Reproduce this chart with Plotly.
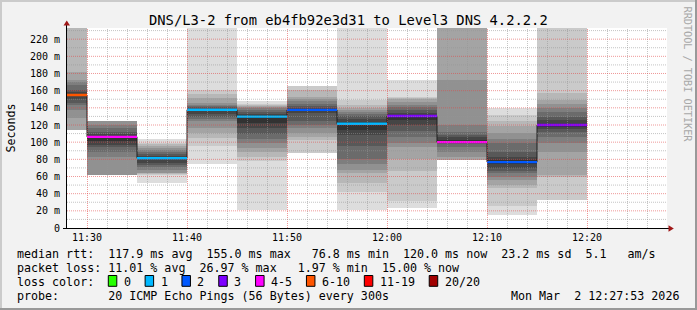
import plotly.graph_objects as go
from datetime import datetime, timedelta

# ---------------- data ----------------
DAY = "2026-03-02"
STEP_SECONDS = 300
step_end = ["11:30", "11:35", "11:40", "11:45", "11:50", "11:55",
            "12:00", "12:05", "12:10", "12:15", "12:20"]
median_ms = [155.0, 106.2, 81.2, 137.8, 129.7, 137.6, 121.5, 130.5, 100.0, 76.8, 120.0]
loss_class = ["6-10", "4-5", "1", "1", "1", "2", "1", "3", "4-5", "2", "3"]

INF = float("inf")   # ping above graph max (or unknown) -> drawn to the top
# 20 sorted ping times per step (ms); None = no value
pings_ms = [
    [None, None, 113.6, 113.6, 128.0, 137.7, 143.5, 146.0, 150.1, 154.3,
     156.0, 158.0, 161.0, 166.8, 169.7, 172.6, 182.3, INF, None, None],
    [None, None, None, None, 61.9, 83.3, 89.1, 94.2, 96.9, 100.8,
     107.4, 110.0, 112.4, 116.3, 120.2, 124.1, None, None, None, None],
    [51.9, 61.9, 62.5, 63.5, 64.5, 67.8, 71.6, 73.5, 75.5, 79.8,
     82.5, 84.0, 86.0, 88.5, 91.1, 93.5, 95.7, 97.3, 98.8, 103.9],
    [74.4, 95.0, 104.7, 110.5, 116.3, 124.1, 127.0, 129.9, 132.5, 136.0,
     139.0, 139.8, 140.4, 142.0, 143.5, 145.4, 151.3, 156.0, 161.0, INF],
    [21.2, 77.5, 83.3, 88.0, 93.0, 98.9, 104.0, 110.0, 116.0, 122.0,
     131.1, 133.0, 134.9, 137.3, 139.6, 140.6, 141.6, 143.0, 144.3, 148.2],
    [None, 87.2, 102.7, 106.5, 110.5, 116.3, 120.0, 124.1, 134.0, 136.5,
     138.5, 139.5, 141.6, 144.5, 147.4, 150.0, 153.2, 161.0, 164.9, None],
    [21.2, 42.5, 52.3, 63.9, 68.0, 74.0, 80.0, 96.0, 108.6, 114.4,
     123.0, 126.5, 130.0, 133.0, 135.0, 137.5, 139.6, 143.5, 149.3, INF],
    [23.1, 30.9, 65.9, 80.0, 93.8, 98.9, 106.6, 113.0, 120.2, 126.0,
     131.9, 134.0, 137.7, 141.0, 143.5, 147.0, 150.5, 152.0, 153.2, 172.6],
    [None, None, None, 79.4, 83.3, 89.1, 93.8, 97.7, 99.0, 99.5,
     102.7, 106.0, 108.6, 112.4, 120.2, 172.6, INF, None, None, None],
    [15.4, 25.1, 46.4, 50.0, 56.1, 60.0, 63.9, 66.0, 69.7, 74.4,
     79.4, 83.3, 89.1, 98.9, 104.0, 110.5, 118.3, 124.1, 131.9, 139.6],
    [None, 32.8, 60.0, 62.0, 89.1, 98.9, 106.6, 112.4, 115.5, 118.7,
     121.0, 125.5, 129.9, 135.0, 139.6, 144.0, 149.3, 157.1, INF, None],
]

x_tick_times = ["11:30", "11:40", "11:50", "12:00", "12:10", "12:20"]
y_tick_values = [0, 20, 40, 60, 80, 100, 120, 140, 160, 180, 200, 220]
y_tick_labels = ["0", "20 m", "40 m", "60 m", "80 m", "100 m", "120 m",
                 "140 m", "160 m", "180 m", "200 m", "220 m"]
legend_classes = ["0", "1", "2", "3", "4-5", "6-10", "11-19", "20/20"]

title_text = "DNS/L3-2 from eb4fb92e3d31 to Level3 DNS 4.2.2.2"
median_line = "median rtt:  117.9 ms avg  155.0 ms max   76.8 ms min  120.0 ms now  23.2 ms sd  5.1   am/s"
loss_line = "packet loss: 11.01 % avg  26.97 % max   1.97 % min  15.00 % now"
color_line = "loss color:"
probe_line = "probe:       20 ICMP Echo Pings (56 Bytes) every 300s"
stamp_text = "Mon Mar  2 12:27:53 2026"
side_text = "RRDTOOL / TOBI OETIKER"
y_title = "Seconds"

# ---------------- styles ----------------
LOSS_COLORS = {"0": "#26ff00", "1": "#00b8ff", "2": "#0059ff", "3": "#7e00ff",
               "4-5": "#ff00ff", "6-10": "#ff5500", "11-19": "#ff0000", "20/20": "#a10000"}
MONO = "DejaVu Sans Mono"
W, H = 697, 310
PL, PT, PW, PH = 67, 28, 600, 200
Y_MAX = 233.0
CLIP_TOP = Y_MAX * 10
GRID_MINOR = "rgba(150,150,150,0.55)"
GRID_MAJOR = "rgba(225,70,70,0.55)"
AXIS_RED = "#a01818"


def fx(px):
    return (px - PL) / PW


def fy(py):
    return (PT + PH - py) / PH


def t(hm):
    return datetime.fromisoformat(f"{DAY} {hm}:00")


ends = [t(s) for s in step_end]
starts = [e - timedelta(seconds=STEP_SECONDS) for e in ends]
centers = [e - timedelta(seconds=STEP_SECONDS / 2) for e in ends]

fig = go.Figure()

# smoke bands (outer/light first, inner/dark last)
N = 20
half = N // 2
for i in range(1, half + 1):
    shade = int(190 / half * (half - i)) + 50
    color = f"rgb({shade},{shade},{shade})"
    xs, bases, heights = [], [], []
    for c, p in zip(centers, pings_ms):
        lo, hi = p[i - 1], p[N - i]
        if lo is None or hi is None or lo == INF:
            continue
        hi = min(hi, CLIP_TOP)
        xs.append(c)
        bases.append(lo)
        heights.append(hi - lo)
    fig.add_trace(go.Bar(x=xs, y=heights, base=bases, width=STEP_SECONDS * 1000,
                         marker=dict(color=color, line=dict(width=0)),
                         hoverinfo="skip", showlegend=False))

# median step line
fig.add_trace(go.Scatter(x=starts + [ends[-1]], y=median_ms + [median_ms[-1]],
                         mode="lines", line=dict(color="#202020", width=1, shape="hv"),
                         hoverinfo="skip", showlegend=False))

# loss coloured median marks
for cls in legend_classes:
    xs, ys = [], []
    for s, e, m, lc in zip(starts, ends, median_ms, loss_class):
        if lc == cls:
            xs += [s, e, None]
            ys += [m, m, None]
    if xs:
        fig.add_trace(go.Scatter(x=xs, y=ys, mode="lines",
                                 line=dict(color=LOSS_COLORS[cls], width=2.4),
                                 hoverinfo="skip", showlegend=False))

shapes = []
# grid (drawn above the smoke, like rrdtool)
x_start, x_stop = t("11:28"), t("12:28")
m = x_start + timedelta(minutes=2)
while m <= x_stop:
    major = (m.minute % 10 == 0)
    xm = m + timedelta(seconds=3)
    shapes.append(dict(type="line", xref="x", yref="paper", x0=xm, x1=xm, y0=0, y1=1,
                       layer="above",
                       line=dict(color=GRID_MAJOR if major else GRID_MINOR, width=1, dash="1px,1px")))
    m += timedelta(minutes=2)
for v in range(10, 240, 10):
    major = (v % 20 == 0)
    shapes.append(dict(type="line", xref="paper", yref="y", x0=0, x1=1, y0=v, y1=v,
                       layer="above",
                       line=dict(color=GRID_MAJOR if major else GRID_MINOR, width=1, dash="1px,1px")))

# axes lines and arrows
shapes.append(dict(type="line", xref="paper", yref="paper", x0=fx(66.5), x1=fx(66.5),
                   y0=fy(228.5), y1=fy(23), layer="above", line=dict(color="#000", width=1)))
shapes.append(dict(type="line", xref="paper", yref="paper", x0=fx(63), x1=fx(669),
                   y0=fy(228.5), y1=fy(228.5), layer="above", line=dict(color="#000", width=1)))
shapes.append(dict(type="path", xref="paper", yref="paper", layer="above",
                   path=f"M {fx(63.5)} {fy(25.5)} L {fx(70)} {fy(25.5)} L {fx(66.75)} {fy(20.5)} Z",
                   fillcolor=AXIS_RED, line=dict(width=0)))
shapes.append(dict(type="path", xref="paper", yref="paper", layer="above",
                   path=f"M {fx(668.5)} {fy(225.2)} L {fx(668.5)} {fy(231.8)} L {fx(673.8)} {fy(228.5)} Z",
                   fillcolor=AXIS_RED, line=dict(width=0)))

# frame shading
shapes.append(dict(type="rect", xref="paper", yref="paper", x0=fx(0), x1=fx(W), y0=fy(0), y1=fy(2),
                   line=dict(width=0), fillcolor="#cbcbcb", layer="above"))
shapes.append(dict(type="rect", xref="paper", yref="paper", x0=fx(0), x1=fx(2), y0=fy(0), y1=fy(H),
                   line=dict(width=0), fillcolor="#cbcbcb", layer="above"))
shapes.append(dict(type="rect", xref="paper", yref="paper", x0=fx(W - 2), x1=fx(W), y0=fy(0), y1=fy(H),
                   line=dict(width=0), fillcolor="#999999", layer="above"))
shapes.append(dict(type="rect", xref="paper", yref="paper", x0=fx(0), x1=fx(W), y0=fy(H - 2), y1=fy(H),
                   line=dict(width=0), fillcolor="#999999", layer="above"))

annotations = []


def ann(text, x, y, size=11.66, xanchor="left", color="#000", angle=0):
    annotations.append(dict(text=text.replace(" ", "\u00a0"), x=fx(x), y=fy(y),
                            xref="paper", yref="paper", xanchor=xanchor, yanchor="middle",
                            showarrow=False, textangle=angle,
                            font=dict(family=MONO, size=size, color=color)))


ann(title_text, 348.5, 19.5, size=13.8, xanchor="center")
ann(y_title, 10.5, 128, size=11.66, xanchor="center", angle=-90)
ann(median_line, 15, 254.3)
ann(loss_line, 15, 268.3)
ann(color_line, 15, 282.3)
ann(probe_line, 15, 296.3)
ann(stamp_text, 681, 296.3, xanchor="right")
ann(side_text, 687.5, 74, size=10.2, xanchor="center", color="#a8a8a8", angle=90)

# loss colour legend boxes
CH = 7.02
bx = 108.3
for cls in legend_classes:
    shapes.append(dict(type="rect", xref="paper", yref="paper", x0=fx(bx), x1=fx(bx + 8.5),
                       y0=fy(286.3), y1=fy(275.5), fillcolor=LOSS_COLORS[cls],
                       line=dict(color="#000", width=1), layer="above"))
    ann(cls, bx + 13.5, 282.3)
    bx += 29.8 + CH * len(cls)

fig.update_layout(
    width=W, height=H,
    margin=dict(l=PL, r=W - PL - PW, t=PT, b=H - PT - PH, pad=0),
    paper_bgcolor="#f2f2f2", plot_bgcolor="#ffffff",
    barmode="overlay", bargap=0, showlegend=False,
    font=dict(family=MONO, size=10, color="#000"),
    shapes=shapes, annotations=annotations,
    xaxis=dict(type="date", range=[x_start, x_stop], showgrid=False, zeroline=False,
               showline=False, ticks="", tickvals=[t(s) for s in x_tick_times],
               ticktext=x_tick_times, tickfont=dict(family=MONO, size=10),
               ticklabelstandoff=2, fixedrange=True),
    yaxis=dict(range=[0, Y_MAX], showgrid=False, zeroline=False, showline=False,
               ticks="", tickvals=y_tick_values, ticktext=y_tick_labels,
               tickfont=dict(family=MONO, size=10), ticklabelstandoff=6, fixedrange=True),
)

fig.write_html("out.html")
